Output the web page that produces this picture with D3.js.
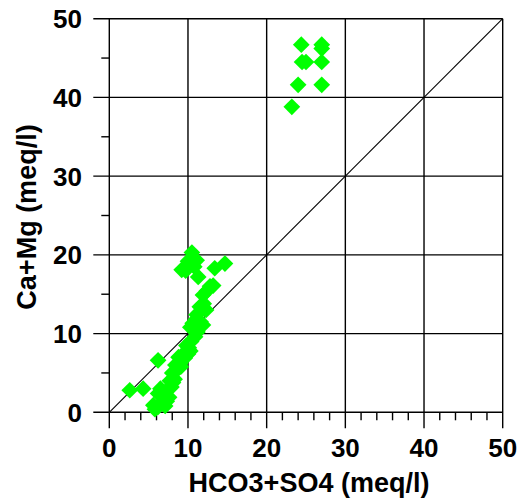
<!DOCTYPE html>
<html>
<head>
<meta charset="utf-8">
<script src="https://cdn.jsdelivr.net/npm/d3@7"></script>
<style>
  body { margin: 0; background: #fff; }
  svg { display: block; font-family: "Liberation Sans", Arial, sans-serif; font-weight: bold; }
</style>
</head>
<body>
<svg></svg>
<script>
// HCO3+SO4 (x) vs Ca+Mg (y), meq/l
let lowX = [2.6, 4.3, 5.6, 5.8, 6.2, 6.7, 7.3, 6.2, 6.5, 7.0, 7.5, 7.9, 7.7, 8.3, 8.0, 8.6, 8.4, 9.0, 9.2, 8.8,
            9.5, 10.0, 10.3, 9.8, 10.4, 10.9, 11.2, 10.3, 10.6, 11.0, 11.9, 11.1, 11.5, 12.0, 11.9, 12.4, 12.8, 13.2,
            6.2, 9.2, 9.7, 10.0, 10.5, 11.1, 10.8, 11.3, 13.4, 14.7, 7.1, 7.6, 8.1, 9.1, 9.6, 10.1, 11.6, 12.3];
let lowY = [2.8, 3.0, 0.9, 0.4, 0.7, 1.2, 1.4, 2.4, 3.0, 2.2, 3.0, 3.2, 4.0, 4.2, 5.0, 5.4, 6.0, 6.2, 6.6, 7.0,
            7.5, 7.4, 7.8, 8.5, 9.0, 9.6, 10.2, 10.8, 11.3, 11.8, 11.1, 12.4, 13.4, 13.8, 14.9, 15.4, 16.0, 16.1,
            6.6, 18.1, 18.0, 19.2, 20.3, 19.3, 18.5, 17.2, 18.3, 18.9, 0.8, 1.9, 3.8, 5.8, 6.9, 8.2, 11.5, 13.0];
let highX = [24.4, 27.0, 27.0, 24.5, 25.0, 27.0, 24.0, 27.0, 23.2];
let highY = [46.7, 46.7, 46.2, 44.5, 44.5, 44.5, 41.6, 41.6, 38.8];
let majorTicks = [0, 10, 20, 30, 40, 50];
let xMinor = d3.range(2, 50, 2).filter(v => v % 10 !== 0);
let yMinor = [5, 15, 25, 35, 45];

let width = 521, height = 501;
let x0 = 109.3, x1 = 502.7, y0 = 412.3, y1 = 18.7;

let svg = d3.select('svg')
            .attr('width', width)
            .attr('height', height);

let x = d3.scaleLinear().domain([0, 50]).range([x0, x1]);
let y = d3.scaleLinear().domain([0, 50]).range([y0, y1]);

let points = lowX.map((v, i) => ({x: v, y: lowY[i]}))
              .concat(highX.map((v, i) => ({x: v, y: highY[i]})));

// grid lines + long outward ticks
let grid = svg.append('g').attr('stroke', '#000').attr('stroke-width', 1.4);
grid.selectAll('line.vx')
    .data(majorTicks)
    .enter()
    .append('line')
      .attr('x1', d => x(d)).attr('x2', d => x(d))
      .attr('y1', y(50)).attr('y2', y(0) + 16);
grid.selectAll('line.hy')
    .data(majorTicks)
    .enter()
    .append('line')
      .attr('y1', d => y(d)).attr('y2', d => y(d))
      .attr('x1', x(0) - 16).attr('x2', x(50));

// minor ticks
grid.selectAll('line.mx')
    .data(xMinor)
    .enter()
    .append('line')
      .attr('x1', d => x(d)).attr('x2', d => x(d))
      .attr('y1', y(0)).attr('y2', y(0) + 8);
grid.selectAll('line.my')
    .data(yMinor)
    .enter()
    .append('line')
      .attr('y1', d => y(d)).attr('y2', d => y(d))
      .attr('x1', x(0) - 8).attr('x2', x(0));

// 1:1 line
svg.append('line')
    .attr('x1', x(0)).attr('y1', y(0))
    .attr('x2', x(50)).attr('y2', y(50))
    .attr('stroke', '#000')
    .attr('stroke-width', 1.1);

// points
let diamond = d3.symbol().type(d3.symbolSquare).size(140);
svg.append('g')
    .selectAll('path')
    .data(points)
    .enter()
    .append('path')
      .attr('d', diamond)
      .attr('transform', d => `translate(${x(d.x)},${y(d.y)}) rotate(45)`)
      .attr('fill', '#00ff00');

// tick labels
svg.append('g')
    .selectAll('text')
    .data(majorTicks)
    .enter()
    .append('text')
      .attr('x', d => x(d))
      .attr('y', 457)
      .attr('text-anchor', 'middle')
      .attr('font-size', 26)
      .text(d => d);

svg.append('g')
    .selectAll('text')
    .data(majorTicks)
    .enter()
    .append('text')
      .attr('x', 82)
      .attr('y', d => y(d))
      .attr('dy', '0.36em')
      .attr('text-anchor', 'end')
      .attr('font-size', 26)
      .text(d => d);

// axis titles
svg.append('text')
    .attr('x', 309)
    .attr('y', 492)
    .attr('text-anchor', 'middle')
    .attr('font-size', 27)
    .text('HCO3+SO4 (meq/l)');

svg.append('text')
    .attr('transform', 'translate(36,217) rotate(-90)')
    .attr('text-anchor', 'middle')
    .attr('font-size', 27)
    .text('Ca+Mg (meq/l)');
</script>
</body>
</html>
